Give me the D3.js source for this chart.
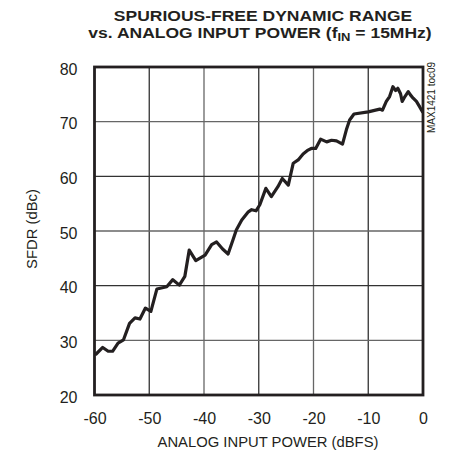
<!DOCTYPE html>
<html><head><meta charset="utf-8">
<script src="https://cdn.jsdelivr.net/npm/d3@7"></script>
<style>body{margin:0;background:#fff}svg{display:block}text{font-family:"Liberation Sans",Arial,sans-serif;fill:#231f20}</style>
</head><body>
<svg id="c" width="454" height="458"></svg>
<script>
const inputPower = [-59.7,-58.5,-57.5,-56.7,-55.7,-54.7,-53.6,-52.6,-51.7,-50.7,-49.7,-48.6,-46.8,-45.7,-44.5,-43.5,-42.7,-41.5,-39.8,-38.6,-37.7,-36.6,-35.6,-34.7,-34.1,-33.1,-31.9,-31.3,-30.5,-29.8,-28.7,-27.7,-26.5,-25.7,-24.6,-23.7,-22.8,-21.9,-21.0,-20.4,-19.6,-18.7,-17.6,-16.7,-15.8,-14.7,-14.0,-13.4,-12.6,-10.0,-7.9,-7.4,-6.7,-6.1,-5.5,-5.0,-4.6,-4.1,-3.8,-3.3,-2.7,-2.3,-1.8,-1.2,-0.6,-0.1];
const sfdr = [27.5,28.7,28.0,28.0,29.5,30.1,33.1,34.1,33.9,35.9,35.3,39.4,39.8,41.1,40.1,41.7,46.5,44.6,45.6,47.5,48.0,46.7,45.8,48.4,50.2,52.0,53.5,53.9,53.7,54.8,57.8,56.3,58.1,59.6,58.4,62.4,63.0,64.1,64.8,65.1,65.1,66.8,66.3,66.6,66.5,65.9,68.5,70.3,71.4,71.8,72.3,72.1,73.7,74.6,76.4,75.7,76.1,75.1,73.7,74.6,75.5,74.9,74.3,73.7,72.7,71.8];
const xTicks = [-60,-50,-40,-30,-20,-10,0];
const yTicks = [20,30,40,50,60,70,80];
const titleLine1 = "SPURIOUS-FREE DYNAMIC RANGE";
const xTitle = "ANALOG INPUT POWER (dBFS)";
const yTitle = "SFDR (dBc)";
const tag = "MAX1421 toc09";

const svg = d3.select("#c");
const L = 94.5, R = 423, T = 67, B = 395;
const x = d3.scaleLinear().domain([-60,0]).range([L,R]);
const y = d3.scaleLinear().domain([20,80]).range([B,T]);
const FONT = "'Liberation Sans',Arial,sans-serif";

// grid
const g = svg.append("g");
g.selectAll("line.v").data(xTicks.slice(1,-1)).join("line")
  .attr("x1",d=>x(d)).attr("x2",d=>x(d)).attr("y1",T).attr("y2",B)
  .attr("stroke",(d,i)=> i%2 ? "#666" : "#333").attr("stroke-width",1.3);
g.selectAll("line.h").data(yTicks.slice(1,-1)).join("line")
  .attr("y1",d=>y(d)).attr("y2",d=>y(d)).attr("x1",L).attr("x2",R)
  .attr("stroke",(d,i)=> i%2 ? "#333" : "#666").attr("stroke-width",1.3);

// axes (labels via d3 axes, no domain/ticks)
const xa = svg.append("g").attr("transform",`translate(0,${B})`)
  .call(d3.axisBottom(x).tickValues(xTicks).tickSize(0).tickPadding(18).tickFormat(d=>String(d)));
xa.select(".domain").remove();
xa.selectAll("text").style("font-size","16px").attr("fill","#231f20").style("font-family",FONT);
const ya = svg.append("g").attr("transform",`translate(${L},2)`)
  .call(d3.axisLeft(y).tickValues(yTicks).tickSize(0).tickPadding(17).tickFormat(d=>String(d)));
ya.select(".domain").remove();
ya.selectAll("text").style("font-size","16px").attr("fill","#231f20").style("font-family",FONT);

// frame
svg.append("rect").attr("x",L).attr("y",T).attr("width",R-L).attr("height",B-T)
  .attr("fill","none").attr("stroke","#231f20").attr("stroke-width",2.8);

// line
const line = d3.line().x((d,i)=>x(inputPower[i])).y(d=>y(d)).curve(d3.curveLinear);
svg.append("path").datum(sfdr).attr("d",line).attr("fill","none")
  .attr("stroke","#231f20").attr("stroke-width",3.2).attr("stroke-linejoin","round").attr("stroke-linecap","round");

// titles
svg.append("text").attr("transform","translate(263,21) scale(1.13,1)").attr("text-anchor","middle")
  .style("font-size","15.5px").style("font-weight","bold").text(titleLine1);
const t2 = svg.append("text").attr("transform","translate(260,38) scale(1.13,1)").attr("text-anchor","middle")
  .style("font-size","15.5px").style("font-weight","bold");
t2.append("tspan").text("vs. ANALOG INPUT POWER (f");
t2.append("tspan").attr("dy",3).style("font-size","11.5px").text("IN");
t2.append("tspan").attr("dy",-3).text(" = 15MHz)");

svg.append("text").attr("x",268).attr("y",447).attr("text-anchor","middle")
  .style("font-size","14.8px").text(xTitle);
svg.append("text").attr("transform","translate(37,229) rotate(-90)").attr("text-anchor","middle")
  .style("font-size","14.8px").text(yTitle);
svg.append("text").attr("transform","translate(435,133) rotate(-90)").attr("text-anchor","start")
  .style("font-size","10px").text(tag);
</script>
</body></html>
